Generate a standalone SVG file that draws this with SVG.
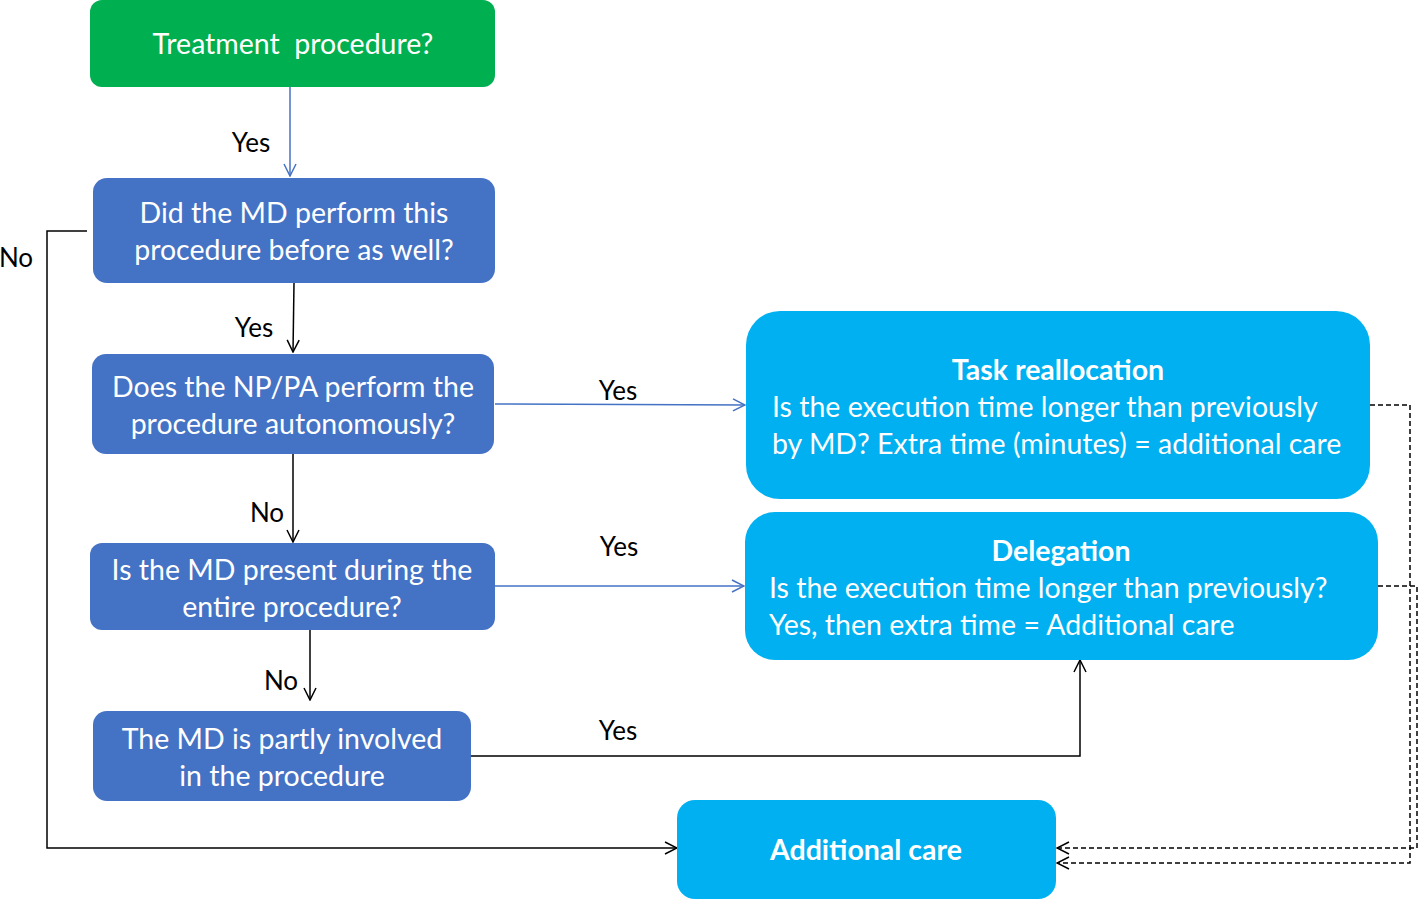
<svg xmlns="http://www.w3.org/2000/svg" width="1418" height="899" viewBox="0 0 1418 899">
<style>
.nt{font-family:Lato,"Liberation Sans",sans-serif;font-size:28.5px;fill:#fff;text-anchor:middle}
.nl{font-family:Lato,"Liberation Sans",sans-serif;font-size:28.5px;fill:#fff}
.nb{font-family:Lato,"Liberation Sans",sans-serif;font-size:28.5px;fill:#fff;font-weight:bold;text-anchor:middle}
.lb{font-family:Lato,"Liberation Sans",sans-serif;font-size:26px;fill:#000;text-anchor:middle}
.blue{fill:#4472c4}
.cyan{fill:#00b0f0}
.c{fill:none;stroke:#000;stroke-width:1.5}
.cb{fill:none;stroke:#4472c4;stroke-width:1.5}
.cd{fill:none;stroke:#000;stroke-width:1.5;stroke-dasharray:5 3}
</style>
<defs>
<marker id="ab" viewBox="0 0 14 14" refX="13" refY="7" markerWidth="14" markerHeight="14" markerUnits="userSpaceOnUse" orient="auto"><path d="M1,1 L13,7 L1,13" fill="none" stroke="#000" stroke-width="1.5"/></marker>
<marker id="abl" viewBox="0 0 14 14" refX="13" refY="7" markerWidth="14" markerHeight="14" markerUnits="userSpaceOnUse" orient="auto"><path d="M1,1 L13,7 L1,13" fill="none" stroke="#4472c4" stroke-width="1.5"/></marker>
</defs>
<rect width="1418" height="899" fill="#fff"/>
<g id="connectors">
<path class="cb" d="M290,87 L290,176" marker-end="url(#abl)"/>
<path class="c" d="M294,283 L293,352" marker-end="url(#ab)"/>
<path class="c" d="M293,454 L293,542" marker-end="url(#ab)"/>
<path class="c" d="M310,630 L310,700" marker-end="url(#ab)"/>
<path class="cb" d="M495,404 L745,405" marker-end="url(#abl)"/>
<path class="cb" d="M495,586 L744,586" marker-end="url(#abl)"/>
<path class="c" d="M471,756 L1080,756 L1080,660" marker-end="url(#ab)"/>
<path class="c" d="M87,231 L47,231 L47,848 L677,848" marker-end="url(#ab)"/>
<path class="cd" d="M1370,405 L1410,405 L1410,863 L1057,863" marker-end="url(#ab)"/>
<path class="cd" d="M1378,586 L1417,586 L1417,848 L1057,848" marker-end="url(#ab)"/>
<text class="lb" x="251" y="152">Yes</text>
<text class="lb" x="254" y="337">Yes</text>
<text class="lb" x="267" y="522">No</text>
<text class="lb" x="281" y="690">No</text>
<text class="lb" x="618" y="400">Yes</text>
<text class="lb" x="619" y="556">Yes</text>
<text class="lb" x="618" y="740">Yes</text>
<text class="lb" x="16" y="267">No</text>
</g>
<g id="treatment">
<rect x="90" y="0" width="405" height="87" rx="12" fill="#00b050"/>
<text class="nt" x="293" y="54">Treatment&#160; procedure?</text>
</g>
<g id="did-md">
<rect class="blue" x="93" y="178" width="402" height="105" rx="14"/>
<text class="nt" x="294" y="223">Did the MD perform this</text>
<text class="nt" x="294" y="260">procedure before as well?</text>
</g>
<g id="np-pa">
<rect class="blue" x="92" y="354" width="402" height="100" rx="14"/>
<text class="nt" x="293" y="397">Does the NP/PA perform the</text>
<text class="nt" x="293" y="434">procedure autonomously?</text>
</g>
<g id="md-present">
<rect class="blue" x="90" y="543" width="405" height="87" rx="12"/>
<text class="nt" x="292" y="580">Is the MD present during the</text>
<text class="nt" x="292" y="617">entire procedure?</text>
</g>
<g id="partly">
<rect class="blue" x="93" y="711" width="378" height="90" rx="14"/>
<text class="nt" x="282" y="749">The MD is partly involved</text>
<text class="nt" x="282" y="786">in the procedure</text>
</g>
<g id="task-reallocation">
<rect class="cyan" x="746" y="311" width="624" height="188" rx="34"/>
<text class="nb" x="1058" y="380">Task reallocation</text>
<text class="nl" x="772" y="417">Is the execution time longer than previously</text>
<text class="nl" x="772" y="454">by MD? Extra time (minutes) = additional care</text>
</g>
<g id="delegation">
<rect class="cyan" x="745" y="512" width="633" height="148" rx="30"/>
<text class="nb" x="1061" y="561">Delegation</text>
<text class="nl" x="769" y="598">Is the execution time longer than previously?</text>
<text class="nl" x="769" y="635">Yes, then extra time = Additional care</text>
</g>
<g id="additional-care">
<rect class="cyan" x="677" y="800" width="379" height="99" rx="18"/>
<text class="nb" x="866" y="860">Additional care</text>
</g>
</svg>
